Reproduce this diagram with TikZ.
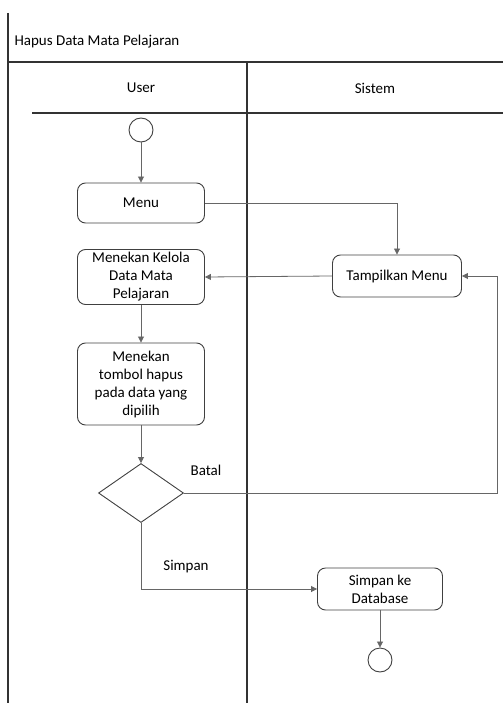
\documentclass[tikz,border=0pt]{standalone}
\usepackage{fontspec}
\setmainfont{Carlito}
\usetikzlibrary{shapes.geometric,arrows.meta}
\begin{document}
\begin{tikzpicture}[x=1pt,y=-1pt,
  act/.style={draw=black!75,line width=0.9pt,rounded corners=8pt,minimum width=127pt,align=center,
    font=\fontsize{15}{18}\selectfont,inner sep=2pt},
  flow/.style={draw=black!60,line width=0.8pt,-{Triangle[length=6pt,width=6pt]}},
  plain/.style={draw=black!60,line width=0.8pt},
  frame/.style={draw=black!80,line width=1.4pt},
  lbl/.style={font=\fontsize{15}{18}\selectfont}]
\useasboundingbox (0,0) rectangle (503,703);
% swimlane frame
\draw[frame] (8,13) -- (8,703);
\draw[frame] (8,62) -- (503,62);
\draw[frame] (247,62) -- (247,703);
\draw[frame] (32,113) -- (503,113);
\node[lbl,anchor=west] (title) at (11,42) {Hapus Data Mata Pelajaran};
\node[lbl] (luser) at (141,88) {User};
\node[lbl] (lsys) at (375,88) {Sistem};
% activities
\node[draw=black!75,line width=0.9pt,circle,minimum size=24pt,inner sep=0] (start) at (141,130) {};
\node[act,minimum height=40pt] (menu) at (141,203) {Menu};
\node[act,minimum height=42pt,minimum width=129pt] (tampil) at (397,276) {Tampilkan Menu};
\node[act,minimum height=55pt] (kelola) at (141,277) {Menekan Kelola\\Data Mata\\Pelajaran};
\node[act,minimum height=82pt] (tombol) at (141,384) {Menekan\\tombol hapus\\pada data yang\\dipilih};
\node[draw=black!75,line width=0.9pt,diamond,aspect=1.44,minimum width=85pt,minimum height=59pt,inner sep=0] (dec) at (141,493) {};
\node[act,minimum height=42pt,minimum width=125pt] (db) at (380,589) {Simpan ke\\Database};
\node[draw=black!75,line width=0.9pt,circle,minimum size=24pt,inner sep=0] (stop) at (380,660) {};
\coordinate (bt1) at (497,493);
\coordinate (bt2) at (497,276);
\coordinate (sp1) at (141,589);
% connectors
\draw[flow] (start) -- (menu);
\draw[flow] (menu.east) -| (tampil.north);
\draw[flow] (tampil.west) -- (kelola.east);
\draw[flow] (kelola) -- (tombol);
\draw[flow] (tombol) -- (dec.north);
\draw[plain] (dec.east) -- (bt1) -- (bt2);
\draw[flow] (bt2) -- (tampil.east);
\draw[plain] (dec.south) -- (sp1);
\draw[flow] (sp1) -- (db.west);
\draw[flow] (db) -- (stop);
\node[lbl] (batal) at (206,470) {Batal};
\node[lbl] (simpan) at (186,567) {Simpan};
\end{tikzpicture}
\end{document}
